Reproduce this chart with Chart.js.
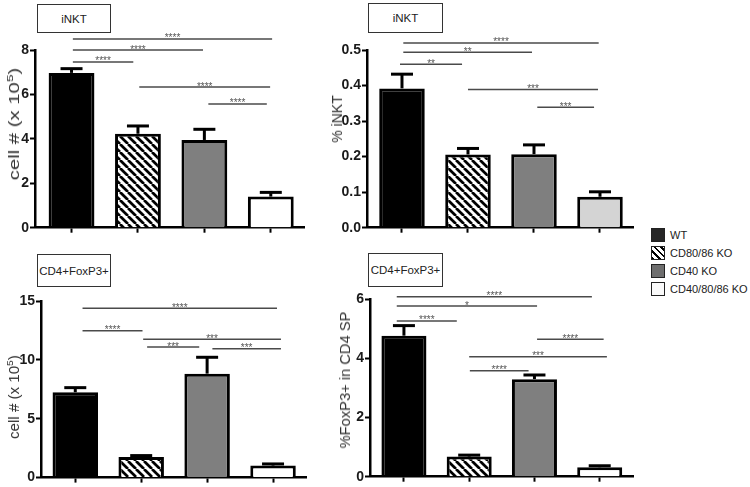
<!DOCTYPE html>
<html><head><meta charset="utf-8">
<script src="https://cdn.jsdelivr.net/npm/chart.js@4.4.1/dist/chart.umd.min.js"></script>
<style>
html,body{margin:0;padding:0;background:#fff;}
#wrap{position:relative;width:750px;height:487px;overflow:hidden;font-family:"Liberation Sans",Arial,sans-serif;background:#fff;}
canvas{position:absolute;}
.tbox{position:absolute;border:1px solid #333;box-sizing:border-box;display:flex;align-items:center;justify-content:center;font-size:11.5px;color:#222;background:#fff;}
.ylab{position:absolute;white-space:nowrap;font-size:14px;color:#333;line-height:1;}
.ylab sup{font-size:9.5px;line-height:0;}
.leg{position:absolute;left:651px;height:14px;font-size:11px;color:#222;display:flex;align-items:center;white-space:nowrap;}
.sw{width:14px;height:14px;border:1px solid #222;box-sizing:border-box;margin-right:5px;}
</style></head>
<body><div id="wrap"></div>
<script>
// ---------- data ----------
const categories = ['WT', 'CD80/86 KO', 'CD40 KO', 'CD40/80/86 KO'];

const nktCount    = [6.97, 4.23, 3.95, 1.40];
const nktCountSem = [0.19, 0.35, 0.48, 0.19];
const nktCountTicks = [0, 2, 4, 6, 8];
const nktCountSig = [ // [from, to, y, label]
  [0.02, 3.02, 8.50, '****'],
  [0.02, 1.98, 8.00, '****'],
  [0.02, 0.93, 7.46, '****'],
  [1.02, 2.99, 6.33, '****'],
  [2.06, 2.94, 5.57, '****']
];

const nktPct    = [0.392, 0.206, 0.207, 0.087];
const nktPctSem = [0.040, 0.017, 0.026, 0.014];
const nktPctTicks = [0, 0.1, 0.2, 0.3, 0.4, 0.5];
const nktPctSig = [
  [0.02, 2.98, 0.520, '****'],
  [0.02, 1.97, 0.4935, '**'],
  [-0.03, 0.91, 0.460, '**'],
  [1.00, 2.97, 0.389, '***'],
  [2.05, 2.91, 0.339, '***']
];

const tregCount    = [7.25, 1.76, 8.83, 1.02];
const tregCountSem = [0.39, 0.11, 1.39, 0.14];
const tregCountTicks = [0, 5, 10, 15];
const tregCountSig = [
  [0.11, 3.06, 14.38, '****'],
  [0.11, 1.02, 12.48, '****'],
  [1.03, 3.12, 11.75, '***'],
  [1.09, 1.88, 11.09, '***'],
  [2.08, 3.12, 10.95, '***']
];

const tregPct    = [4.77, 0.68, 3.30, 0.32];
const tregPctSem = [0.34, 0.05, 0.14, 0.05];
const tregPctTicks = [0, 2, 4, 6];
const tregPctSig = [
  [-0.11, 2.88, 6.09, '****'],
  [-0.11, 2.04, 5.77, '*'],
  [-0.11, 0.81, 5.27, '****'],
  [2.04, 3.06, 4.65, '****'],
  [1.00, 3.11, 4.06, '***'],
  [1.01, 1.91, 3.58, '****']
];

// ---------- layout / style ----------
const panels = [
  {title:'iNKT', ylab:'cell # (x 10<sup>5</sup>)', means:nktCount, sem:nktCountSem, ticks:nktCountTicks, sig:nktCountSig,
   lastFill:'#ffffff', dec:0,
   cv:{l:0,t:0,w:320,h:245}, yw:35, padT:50, padR:16, padB:9.3, xmin:-0.55, xmax:3.5,
   box:{l:37,t:4,w:74,h:29}, lab:{x:14,y:124,s:1.45}},
  {title:'iNKT', ylab:'% iNKT', means:nktPct, sem:nktPctSem, ticks:nktPctTicks, sig:nktPctSig,
   lastFill:'#d4d4d4', dec:1,
   cv:{l:320,t:0,w:320,h:245}, yw:47, padT:50, padR:7, padB:9.3, xmin:-0.53, xmax:3.5,
   box:{l:368,t:3,w:75,h:30}, lab:{x:337,y:119,s:1}},
  {title:'CD4+FoxP3+', ylab:'cell # (x 10<sup>5</sup>)', means:tregCount, sem:tregCountSem, ticks:tregCountTicks, sig:tregCountSig,
   lastFill:'#ffffff', dec:0,
   cv:{l:0,t:245,w:320,h:242}, yw:41, padT:56, padR:14, padB:1.3, xmin:-0.52, xmax:3.5,
   box:{l:37,t:254,w:74,h:33}, lab:{x:14,y:397,s:1.08}},
  {title:'CD4+FoxP3+', ylab:'%FoxP3+ in CD4 SP', means:tregPct, sem:tregPctSem, ticks:tregPctTicks, sig:tregPctSig,
   lastFill:'#ffffff', dec:0,
   cv:{l:320,t:245,w:320,h:242}, yw:50, padT:54.3, padR:7, padB:2.3, xmin:-0.52, xmax:3.51,
   box:{l:368,t:253,w:75,h:34}, lab:{x:345,y:380,s:1.05}}
];

const wrap = document.getElementById('wrap');

function hatch(ctx){
  const s = 8, c = document.createElement('canvas');
  c.width = s; c.height = s;
  const g = c.getContext('2d');
  g.fillStyle = '#fff'; g.fillRect(0, 0, s, s);
  g.strokeStyle = '#000'; g.lineWidth = 2.7;
  for (let k = -1; k <= 1; k++) { g.beginPath(); g.moveTo(k*s, 0); g.lineTo(k*s + s, s); g.stroke(); }
  return ctx.createPattern(c, 'repeat');
}

function overlay(sem, sig){
  return {
    id: 'overlay',
    afterDatasetsDraw(chart){
      const ctx = chart.ctx, xs = chart.scales.x, ys = chart.scales.y;
      const meta = chart.getDatasetMeta(0);
      const vals = chart.data.datasets[0].data;
      ctx.save();
      ctx.strokeStyle = '#000'; ctx.lineWidth = 3; ctx.lineCap = 'butt';
      meta.data.forEach((bar, i) => {
        const top = ys.getPixelForValue(vals[i].y + sem[i]);
        ctx.beginPath(); ctx.moveTo(bar.x, bar.y); ctx.lineTo(bar.x, top); ctx.stroke();
        ctx.beginPath(); ctx.moveTo(bar.x - 11, top); ctx.lineTo(bar.x + 11, top); ctx.stroke();
      });
      ctx.strokeStyle = '#4a4a4a'; ctx.lineWidth = 1.5;
      ctx.fillStyle = '#555'; ctx.font = '10px "Liberation Sans", Arial, sans-serif';
      ctx.textAlign = 'center'; ctx.textBaseline = 'alphabetic';
      sig.forEach(([a, b, y, lab]) => {
        const x1 = xs.getPixelForValue(a), x2 = xs.getPixelForValue(b), py = ys.getPixelForValue(y);
        ctx.beginPath(); ctx.moveTo(x1, py); ctx.lineTo(x2, py); ctx.stroke();
        ctx.fillText(lab, (x1 + x2) / 2, py + 2.5);
      });
      ctx.restore();
    }
  };
}

panels.forEach(p => {
  const cv = document.createElement('canvas');
  cv.width = p.cv.w; cv.height = p.cv.h;
  cv.style.left = p.cv.l + 'px'; cv.style.top = p.cv.t + 'px';
  cv.style.width = p.cv.w + 'px'; cv.style.height = p.cv.h + 'px';
  wrap.appendChild(cv);
  const ctx = cv.getContext('2d');
  const fills = ['#000000', hatch(ctx), '#7f7f7f', p.lastFill];

  new Chart(ctx, {
    type: 'bar',
    data: {
      datasets: [{
        label: p.title,
        data: p.means.map((v, i) => ({x: i, y: v})),
        backgroundColor: fills,
        borderColor: '#000',
        borderWidth: 3,
        borderSkipped: 'start',
        barPercentage: 0.69,
        categoryPercentage: 1
      }]
    },
    options: {
      responsive: false, animation: false, devicePixelRatio: 1,
      layout: {padding: {left: 0, top: p.padT, right: p.padR, bottom: p.padB}},
      plugins: {legend: {display: false}, tooltip: {enabled: false}},
      scales: {
        x: {
          type: 'linear', min: p.xmin, max: p.xmax, offset: false,
          afterBuildTicks: s => { s.ticks = categories.map((c, i) => ({value: i})); },
          afterFit: s => { s.height = 8; },
          ticks: {display: false, includeBounds: false},
          grid: {offset: false, drawOnChartArea: false, drawTicks: true, tickLength: 5, tickColor: '#000', tickWidth: 2},
          border: {display: true, color: '#000', width: 2.5}
        },
        y: {
          type: 'linear', min: p.ticks[0], max: p.ticks[p.ticks.length - 1],
          afterBuildTicks: s => { s.ticks = p.ticks.map(v => ({value: v})); },
          afterFit: s => { s.width = p.yw; },
          ticks: {
            padding: 1, color: '#1a1a1a',
            font: {family: '"Liberation Sans", Arial, sans-serif', size: 14, weight: 'bold'},
            callback: v => Number(v).toFixed(p.dec)
          },
          grid: {drawOnChartArea: false, drawTicks: true, tickLength: 5, tickColor: '#000', tickWidth: 2},
          border: {display: true, color: '#000', width: 2.5}
        }
      }
    },
    plugins: [overlay(p.sem, p.sig)]
  });

  const box = document.createElement('div');
  box.className = 'tbox';
  Object.assign(box.style, {left: p.box.l + 'px', top: p.box.t + 'px', width: p.box.w + 'px', height: p.box.h + 'px'});
  box.textContent = p.title;
  wrap.appendChild(box);

  const lab = document.createElement('div');
  lab.className = 'ylab';
  lab.style.left = p.lab.x + 'px'; lab.style.top = p.lab.y + 'px';
  lab.style.transform = 'translate(-50%,-50%) rotate(-90deg) scaleX(' + p.lab.s + ')';
  lab.innerHTML = p.ylab;
  wrap.appendChild(lab);
});

// legend
const legSwatches = ['#262626', 'repeating-linear-gradient(45deg,#000 0 2px,#fff 2px 4.6px)', '#6e6e6e', '#fafafa'];
const legTop = [228, 246, 264, 282];
categories.forEach((c, i) => {
  const d = document.createElement('div');
  d.className = 'leg';
  d.style.top = legTop[i] + 'px';
  const sw = document.createElement('div');
  sw.className = 'sw';
  sw.style.background = legSwatches[i];
  d.appendChild(sw);
  d.appendChild(document.createTextNode(c));
  wrap.appendChild(d);
});
</script>
</body></html>
